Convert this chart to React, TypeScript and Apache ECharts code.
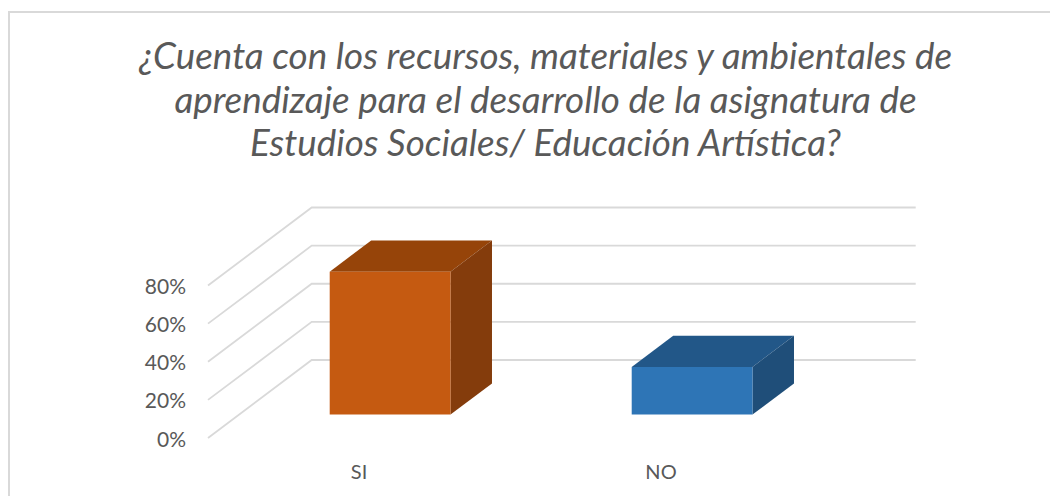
import React, { useEffect, useRef } from "react";
import * as echarts from "echarts";

const titleLines = [
  "¿Cuenta con los recursos, materiales y ambientales de",
  "aprendizaje para el desarrollo de la asignatura de",
  "Estudios Sociales/ Educación Artística?",
];
const categories = ["SI", "NO"];
const values = [0.75, 0.25];
const barColors = ["#C55A11", "#2E75B6"];
const topColors = ["#964409", "#225788"];
const sideColors = ["#843C0C", "#1F4E79"];
const yTicks = [0, 0.2, 0.4, 0.6, 0.8];

const DEPTH_X = 103.7;
const DEPTH_Y = 78;
const BAR_FRONT = 0.3;
const BAR_BACK = 0.7;
const BAR_RATIO = 0.4;

export default function App() {
  const ref = useRef<HTMLDivElement>(null);
  useEffect(() => {
    document.body.style.margin = "0";
    const chart = echarts.init(ref.current!, null, { renderer: "svg" });
    chart.setOption({
      animation: false,
      backgroundColor: "#fff",
      title: {
        text: titleLines.join("\n"),
        left: 540.5,
        top: 28.5,
        textAlign: "center",
        textStyle: {
          fontFamily: "Lato",
          fontStyle: "italic",
          fontWeight: "normal",
          fontSize: 36.8,
          lineHeight: 43.5,
          color: "#595959",
        },
      },
      graphic: [
        {
          type: "polyline",
          silent: true,
          z: -1,
          shape: { points: [[9, 496], [9, 12], [1050, 12]] },
          style: { fill: "none", stroke: "#D9D9D9", lineWidth: 2 },
        },
      ],
      grid: { left: 208, top: 285.5, width: 604, height: 152.5 },
      xAxis: {
        type: "category",
        data: categories,
        axisLine: { show: false },
        axisTick: { show: false },
        axisLabel: {
          fontFamily: "Lato",
          fontSize: 20,
          color: "#595959",
          margin: 23,
        },
      },
      yAxis: {
        type: "value",
        min: 0,
        max: 0.8,
        interval: 0.2,
        splitLine: { show: false },
        axisLine: { show: false },
        axisTick: { show: false },
        axisLabel: {
          fontFamily: "Lato",
          fontSize: 21,
          color: "#595959",
          margin: 22,
          padding: [2, 0, 0, 0],
          formatter: (v: number) => `${Math.round(v * 100)}%`,
        },
      },
      series: [
        {
          type: "custom",
          coordinateSystem: "cartesian2d",
          silent: true,
          z: 1,
          data: yTicks.map((t) => [0, t]),
          renderItem: (_p: any, api: any) => {
            const band = api.size([1, 0])[0];
            const [cx, y] = api.coord([0, api.value(1)]);
            const x0 = cx - band / 2;
            return {
              type: "polyline",
              shape: {
                points: [
                  [x0, y],
                  [x0 + DEPTH_X, y - DEPTH_Y],
                  [x0 + band * 2 + DEPTH_X, y - DEPTH_Y],
                ],
              },
              style: { fill: "none", stroke: "#D9D9D9", lineWidth: 1.8 },
            };
          },
        },
        {
          type: "custom",
          coordinateSystem: "cartesian2d",
          silent: true,
          z: 2,
          data: values.map((v, i) => [i, v]),
          renderItem: (p: any, api: any) => {
            const i = p.dataIndex;
            const band = api.size([1, 0])[0];
            const [cx, yTop] = api.coord([i, api.value(1)]);
            const [, yBase] = api.coord([i, 0]);
            const w = band * BAR_RATIO;
            const fx = DEPTH_X * BAR_FRONT;
            const fy = DEPTH_Y * BAR_FRONT;
            const dx = DEPTH_X * (BAR_BACK - BAR_FRONT);
            const dy = DEPTH_Y * (BAR_BACK - BAR_FRONT);
            const l = cx - w / 2 + fx;
            const r = l + w;
            const t = yTop - fy;
            const b = yBase - fy;
            return {
              type: "group",
              children: [
                {
                  type: "polygon",
                  shape: { points: [[l, t], [r, t], [r + dx, t - dy], [l + dx, t - dy]] },
                  style: { fill: topColors[i] },
                },
                {
                  type: "polygon",
                  shape: { points: [[r, t], [r + dx, t - dy], [r + dx, b - dy], [r, b]] },
                  style: { fill: sideColors[i] },
                },
                {
                  type: "rect",
                  shape: { x: l, y: t, width: w, height: b - t },
                  style: { fill: barColors[i] },
                },
              ],
            };
          },
        },
      ],
    });
    return () => chart.dispose();
  }, []);
  return <div ref={ref} style={{ width: 1050, height: 496 }} />;
}
